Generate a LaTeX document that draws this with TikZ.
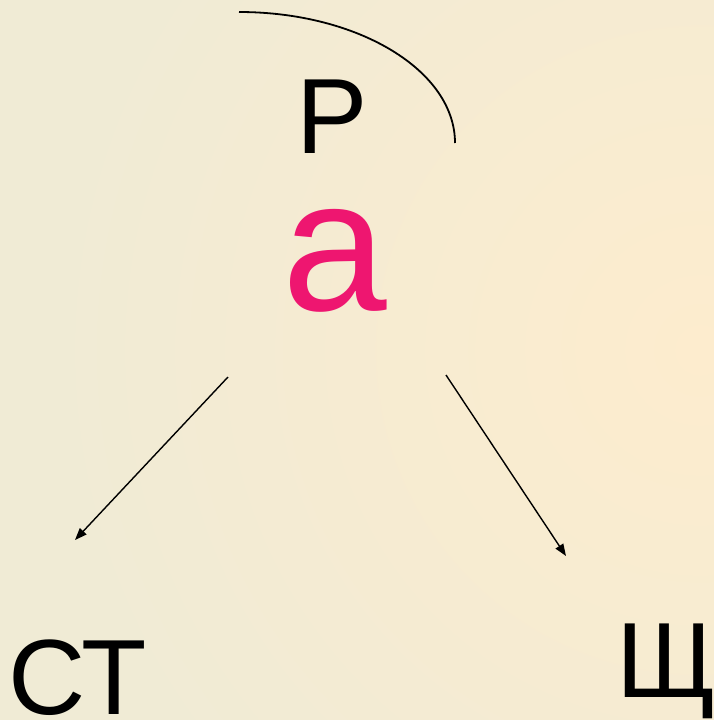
\documentclass[tikz,border=0pt]{standalone}
\usepackage{fontspec}
\setmainfont{Liberation Sans}
\usetikzlibrary{arrows.meta}
\definecolor{bgout}{RGB}{240,235,213}
\definecolor{bgin}{RGB}{253,236,206}
\definecolor{pinkA}{RGB}{238,22,112}
\tikzset{
  letter/.style={inner sep=0pt, anchor=base, text=black},
  conn/.style={line width=1.4pt, -{Triangle[length=12pt,width=9pt]}},
}
\begin{document}
\begin{tikzpicture}[x=1pt,y=-1pt]
\useasboundingbox (0,0) rectangle (714,720);
\begin{scope}
\clip (0,0) rectangle (714,720);
\fill[bgout] (0,0) rectangle (714,720);
\shade[inner color=bgin, outer color=bgout] (700,350) circle (650);
\end{scope}
% letters
\node[letter] (R) at (332,153) {\fontsize{107}{107}\selectfont Р};
\node[letter, text=pinkA] (A) at (335,310) {\fontsize{188}{188}\selectfont а};
\node[letter, anchor=base west] (ST) at (8,714) {\fontsize{107}{107}\selectfont СТ};
\node[letter] (SHCH) at (667,697) {\fontsize{107}{107}\selectfont Щ};
% arc over Р
\coordinate (arcS) at (239,12);
\coordinate (arcE) at (455,143);
\draw[line width=1.8pt] (arcS) arc[start angle=270, end angle=360, x radius=216, y radius=131];
% arrows
\coordinate (l1) at (228,377);
\coordinate (l2) at (75,540);
\coordinate (r1) at (446,375);
\coordinate (r2) at (566,556);
\draw[conn] (l1) -- (l2);
\draw[conn] (r1) -- (r2);
\end{tikzpicture}
\end{document}
